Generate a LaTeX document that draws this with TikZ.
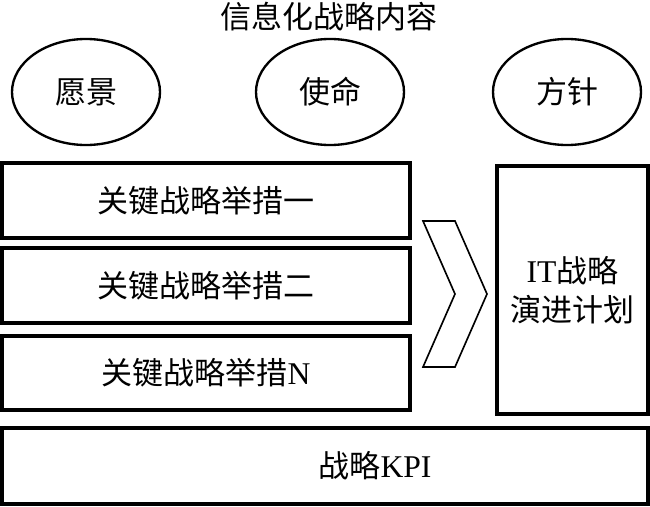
\documentclass[tikz,border=0pt]{standalone}
\usepackage{fontspec}
\setmainfont{Liberation Serif}
\newfontfamily\cjk{Noto Sans CJK SC}[Scale=0.98]
\usepackage{tikz}
\usetikzlibrary{shapes.geometric, positioning}

\begin{document}
\begin{tikzpicture}[x=0.03cm, y=-0.03cm,
    font=\fontsize{27}{33}\selectfont,
    goal/.style={draw, line width=2pt, ellipse, minimum width=4.44cm, minimum height=3.18cm, inner sep=0pt},
    blk/.style={draw, line width=3pt, minimum height=2.25cm, inner sep=0pt, align=center}]
    \useasboundingbox (0,0) rectangle (650,506);
    \node (title) at (329,17) {\cjk 信息化战略内容};
    % vision, mission, policy
    \node[goal] (vision) at (86,92) {\cjk 愿景};
    \node[goal] (mission) at (330,92) {\cjk 使命};
    \node[goal] (policy) at (567,92) {\cjk 方针};
    % key measures
    \node[blk, minimum width=12.24cm] (act1) at (206,200.5) {\cjk 关键战略举措一};
    \node[blk, minimum width=12.24cm] (act2) at (206,285.5) {\cjk 关键战略举措二};
    \node[blk, minimum width=12.24cm, minimum height=2.22cm] (actn) at (206,373) {{\cjk 关键战略举措}N};
    \node[blk, minimum width=4.53cm, minimum height=7.44cm] (plan) at (572.5,290) {IT{\cjk 战略}\\{\cjk 演进计划}};
    \draw[line width=1.4pt, line join=miter] (423,221) -- (455,221) -- (487,294) -- (455,367) -- (423,367) -- (455,294) -- cycle;
    % KPI bar
    \node[blk, minimum width=19.38cm, minimum height=2.28cm] (kpi) at (325,466) {};
    \node (kpitext) at (375,466) {{\cjk 战略}KPI};
\end{tikzpicture}
\end{document}
